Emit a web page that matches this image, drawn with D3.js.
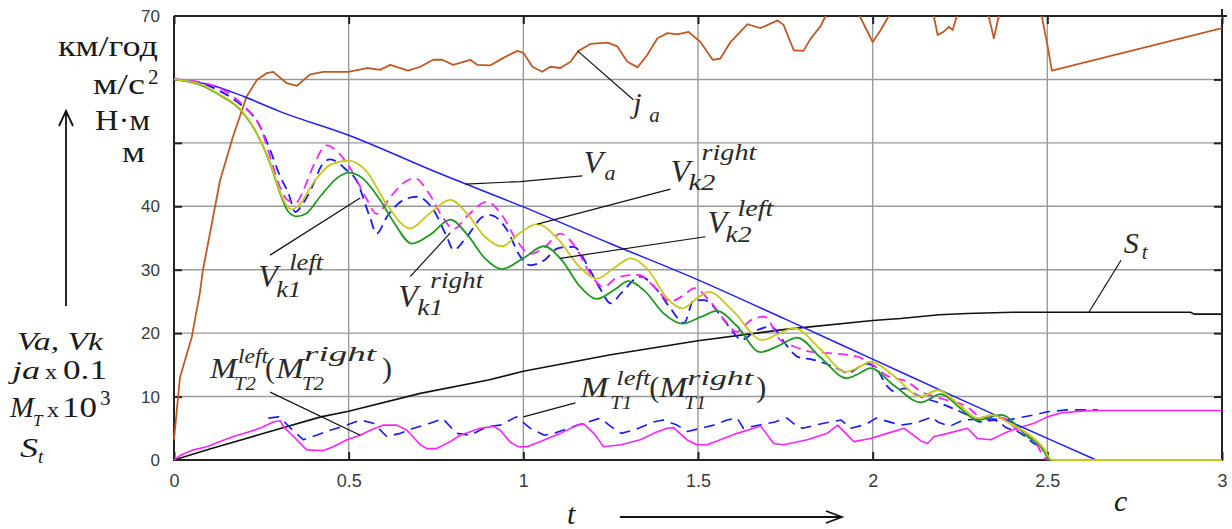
<!DOCTYPE html>
<html>
<head>
<meta charset="utf-8">
<script src="https://cdn.jsdelivr.net/npm/d3@7"></script>
<style>
body { margin: 0; background: #fff; }
svg { display: block; }
</style>
</head>
<body>
<svg id="chart" width="1232" height="529"></svg>
<script>
// axis ticks
const xTickVals = [0, 0.5, 1, 1.5, 2, 2.5, 3];
const xTickLabels = ["0", "0.5", "1", "1.5", "2", "2.5", "3"];
const yGridVals = [10, 20, 30, 40, 50, 60];
const yLabelVals = [0, 10, 20, 30, 40, 70];

// series, [t, value]
const vaData = [[0,60],[0.1,59.2],[0.2,57.3],[0.3,55],[0.5,51.2],[0.75,45.4],[1,39.9],[1.25,34.1],[1.5,28.4],
  [1.75,22.2],[2,15.9],[2.25,9.6],[2.5,3.4],[2.64,0]];

const jaData = [[0,3.2],[0.017,13],[0.051,19.4],[0.074,26.3],[0.083,30],[0.132,44.1],[0.169,51],[0.208,57.3],
  [0.237,59.9],[0.266,61],[0.284,61.2],[0.323,59.4],[0.352,59],[0.39,60.8],[0.427,61.2],[0.499,61.2],[0.553,61.8],
  [0.59,61.5],[0.619,62.3],[0.67,61.4],[0.705,62],[0.742,63.1],[0.768,63.1],[0.799,62.3],[0.848,63.1],[0.868,62.3],
  [0.905,62.2],[0.943,63.4],[0.983,64.5],[1.0,64.2],[1.026,62],[1.054,61.2],[1.077,62],[1.106,61.8],[1.135,62.8],
  [1.158,64.5],[1.192,65.6],[1.241,65.8],[1.269,65.2],[1.298,62.8],[1.327,61.9],[1.355,63.9],[1.384,66.5],
  [1.413,67.3],[1.441,67.1],[1.473,67.5],[1.507,65.9],[1.542,63.1],[1.564,63.3],[1.593,65.9],[1.642,68.7],
  [1.679,68.1],[1.728,69.3],[1.745,68.6],[1.774,64.6],[1.802,64.5],[1.822,66.4],[1.851,68.4],[1.865,70],
  [1.91,72.5],[1.963,70],[2.0,65.9],[2.023,67.8],[2.046,70],[2.11,72.5],[2.175,70],[2.186,67],[2.203,67.5],
  [2.218,68.3],[2.229,67.8],[2.241,70],[2.29,72.5],[2.332,70],[2.347,66.5],[2.361,70],[2.42,72.5],[2.484,70],
  [2.501,65.2],[2.513,61.4],[3,68.1]];

const stData = [[0,0],[0.1,1.7],[0.25,4.1],[0.42,6.8],[0.5,7.7],[0.705,10.5],[0.9,12.6],[1,14],[1.25,16.6],
  [1.5,18.8],[1.75,20.6],[2,22],[2.08,22.3],[2.19,22.9],[2.27,23.1],[2.4,23.3],[2.91,23.3],[2.92,23],[3,23]];

const vkGreen = [[0,60],[0.077,59.1],[0.132,57.5],[0.19,55.2],[0.237,51.5],[0.275,46.8],[0.304,42],[0.328,39.1],
  [0.352,38.4],[0.38,38.9],[0.418,41.5],[0.466,44.4],[0.5,45.3],[0.54,44.4],[0.59,41],[0.63,37.4],[0.681,34.1],
  [0.735,35.6],[0.791,37.9],[0.84,35.5],[0.89,31.8],[0.939,30.1],[1.0,31.8],[1.058,33.7],[1.11,31.5],[1.16,27.5],
  [1.211,25.4],[1.26,26.8],[1.301,28.2],[1.35,26.5],[1.4,23.2],[1.456,21.5],[1.51,22.6],[1.555,23.5],[1.61,21.2],
  [1.679,17],[1.73,18],[1.784,19.3],[1.85,16.2],[1.926,12.9],[1.96,13.6],[1.994,14.5],[2.06,11.8],[2.138,9.1],
  [2.195,10.4],[2.25,8.2],[2.3,6.3],[2.367,7.1],[2.443,3.7],[2.481,2.1],[2.5,0.5],[2.505,0],[3,0]];

const vkYellow = [[0,60],[0.077,59.2],[0.132,57.6],[0.19,55.3],[0.237,51.6],[0.275,46.9],[0.3,42.8],[0.318,40.5],
  [0.337,39.5],[0.36,40.3],[0.4,43.8],[0.45,46.6],[0.5,47.2],[0.55,45.6],[0.61,40.2],[0.676,36.5],[0.73,38.8],
  [0.791,41],[0.84,38.8],[0.89,35.2],[0.939,33.7],[0.99,35.8],[1.039,37.2],[1.1,34.8],[1.16,30.5],[1.211,28.6],
  [1.26,30.3],[1.307,31.8],[1.36,29.8],[1.41,25.6],[1.455,23.9],[1.5,25.6],[1.531,26.5],[1.6,23.5],[1.684,18.9],
  [1.73,19.9],[1.775,20.8],[1.85,17.5],[1.923,13.9],[1.96,14.6],[1.994,15.5],[2.06,13.3],[2.138,10],[2.186,11],
  [2.25,8.6],[2.3,6.6],[2.34,7.1],[2.4,5.5],[2.443,4.2],[2.49,1.8],[2.51,0.1],[2.52,0],[3,0]];

const vkMagenta = [[0,60],[0.08,59.5],[0.132,58.6],[0.2,55.8],[0.247,52.5],[0.277,47.5],[0.3,43.5],[0.325,41],
  [0.35,40.6],[0.37,42.5],[0.4,46.5],[0.437,49.6],[0.47,48.5],[0.51,45.5],[0.55,41.3],[0.58,38.8],[0.62,41.5],
  [0.66,43.8],[0.69,44.4],[0.73,42],[0.77,38.2],[0.8,36.4],[0.84,38.5],[0.896,40.7],[0.94,38.5],[0.98,34.7],
  [1.02,32.5],[1.06,33.5],[1.106,35.7],[1.15,33.5],[1.19,29.5],[1.23,27.3],[1.27,28.8],[1.33,29.2],[1.38,27],
  [1.42,25],[1.46,26],[1.49,27.1],[1.53,25.3],[1.58,21.8],[1.61,20.2],[1.65,22],[1.69,22.6],[1.736,18.9],
  [1.775,17.9],[1.83,17],[1.889,16.8],[1.956,16.3],[2.0,15],[2.04,13.3],[2.1,12.3],[2.138,10.8],[2.195,9.7],
  [2.27,8.4],[2.31,6.8],[2.375,6.6],[2.414,4.7],[2.462,3.2],[2.49,0.5],[2.5,0]];

const vkBlue = [[0,60],[0.08,59.4],[0.13,58.2],[0.18,56.5],[0.247,52.5],[0.275,48.9],[0.304,44.7],[0.328,42],
  [0.347,39.1],[0.37,40.5],[0.4,43.6],[0.42,46.2],[0.447,47.4],[0.494,45.7],[0.522,44.1],[0.56,38.4],[0.58,35.7],
  [0.61,38.4],[0.657,41],[0.695,41.5],[0.743,39.4],[0.781,35.2],[0.8,33.1],[0.838,35.2],[0.886,38.4],[0.905,38.6],
  [0.953,36.3],[0.991,32.1],[1.02,30.7],[1.06,31.5],[1.1,33.4],[1.144,33.6],[1.19,30],[1.22,27],[1.25,24.7],
  [1.28,26.3],[1.335,28.9],[1.383,26.8],[1.42,24],[1.46,21.6],[1.488,25.2],[1.517,25.2],[1.574,22.1],[1.612,19.4],
  [1.622,18.9],[1.67,20.5],[1.708,21],[1.756,17.9],[1.784,16.3],[1.83,15.8],[1.908,14.2],[1.927,13.7],[1.984,15.2],
  [2.013,14.2],[2.042,11.6],[2.062,10.8],[2.09,11.3],[2.128,10.2],[2.195,8.9],[2.271,7.1],[2.31,6],[2.347,6.3],
  [2.386,5],[2.415,4.5],[2.462,2.6],[2.49,1.6],[2.5,0.5],[2.505,0]];

const mtMagenta = [[0,0],[0.02,0.8],[0.056,1.6],[0.094,2.1],[0.132,2.9],[0.17,3.7],[0.218,4.5],[0.246,5],[0.284,6],
  [0.304,6.2],[0.313,5.3],[0.342,3.7],[0.38,1.6],[0.428,1.5],[0.456,2.1],[0.495,3.2],[0.533,3.9],[0.562,4.7],
  [0.6,5.5],[0.638,5.5],[0.667,4.7],[0.705,2.4],[0.724,1.8],[0.752,1.8],[0.791,2.9],[0.819,3.9],[0.877,5],
  [0.915,5.3],[0.934,4.7],[0.963,2.8],[0.985,2.1],[1.01,2.1],[1.049,2.9],[1.106,4.2],[1.154,5.5],[1.173,5.7],
  [1.202,4.2],[1.23,2.1],[1.28,2.4],[1.335,3.2],[1.373,4.2],[1.411,5],[1.43,5.1],[1.468,3.2],[1.497,2.4],
  [1.526,2.4],[1.564,3.2],[1.612,4.2],[1.66,5],[1.679,5.4],[1.717,2.6],[1.745,2.4],[1.813,3.2],[1.87,4.2],
  [1.9,5.5],[1.946,2.9],[1.994,3.4],[2.042,4.2],[2.09,5],[2.11,4.2],[2.138,3],[2.157,2.6],[2.176,3.7],[2.215,4.2],
  [2.271,5],[2.3,3.4],[2.338,3.2],[2.376,4.2],[2.414,5],[2.462,5.8],[2.5,6.8],[2.539,7.4],[2.596,7.7],[2.644,7.8],
  [3,7.8]];

const mtBlue = [[0.27,6.6],[0.3,6.8],[0.32,5.8],[0.34,4.7],[0.37,3.2],[0.408,3.9],
  [0.447,4.7],[0.495,5.5],[0.533,6.3],[0.571,5.8],[0.609,3.7],[0.648,4.2],[0.686,5],[0.733,5.8],[0.77,6.5],
  [0.809,4.2],[0.848,3.9],[0.88,4.8],[0.905,5.3],[0.934,5.5],[0.98,6.8],[1.02,5],[1.06,3.9],[1.087,4.2],
  [1.145,5.3],[1.22,6.6],[1.25,5.3],[1.28,4.2],[1.316,4.7],[1.373,6],[1.4,6.3],[1.44,5.5],[1.47,4.5],[1.545,5.5],
  [1.583,6.3],[1.612,6.6],[1.63,5],[1.72,6],[1.755,6.6],[1.784,5.3],[1.8,5],[1.86,5.8],[1.91,6.3],[1.937,5],
  [1.98,5.6],[2.01,6.6],[2.08,5.5],[2.12,5.8],[2.17,6.8],[2.186,6],[2.22,5.3],[2.26,6.3],[2.33,6.5],[2.386,6.3],
  [2.414,6.6],[2.462,7.1],[2.5,7.6],[2.558,7.9],[2.644,7.9]];

// leader lines for curve names, [t, value]
const leaders = [
  [[1.155,64.5],[1.315,56.8]],
  [[0.834,43.5],[0.991,43.9],[1.169,44.8]],
  [[1.04,37.2],[1.421,42.7]],
  [[1.106,31.8],[1.521,35.2]],
  [[0.275,32.3],[0.533,41.3]],
  [[0.676,28.9],[0.791,35.8]],
  [[2.711,31.5],[2.619,23.3]],
  [[0.275,10.7],[0.533,3.9]],
  [[1.149,9],[1.0,6.8]]
];

// curve names: anchor [t, value], parts [text, dx, dy, size, italic, width]
const curveLabels = [
  {at:[1.315,54.7], parts:[["j",0,0,30,1],["a",16,9,21,1]]},
  {at:[1.172,45.2], parts:[["V",0,0,32,1],["a",21,7,22,1]]},
  {at:[1.421,43.8], parts:[["V",0,0,32,1],["right",31,-22,23,1,55],["k2",18,8,23,1,27]]},
  {at:[1.527,35.8], parts:[["V",0,0,32,1],["left",30,-17,23,1,36],["k2",18,9,23,1,26]]},
  {at:[0.241,27.3], parts:[["V",0,0,32,1],["left",31,-17,23,1,34],["k1",18,10,23,1,25]]},
  {at:[0.642,24.1], parts:[["V",0,0,32,1],["right",32,-19,23,1,53],["k1",19,8,23,1,26]]},
  {at:[2.719,32.6], parts:[["S",0,0,30,1],["t",18,6,21,1]]},
  {at:[0.103,12.9], parts:[["M",0,0,30,1,27],["left",28,-15,21,1,30],["T2",24,12,19,1,22],["(",55,0,30,0],
    ["M",66,0,30,1,28],["right",94,-17,22,1,72],["T2",92,12,19,1,22],[")",172,0,30,0]]},
  {at:[1.163,9.9], parts:[["M",0,0,30,1,28],["left",36,-12,21,1,34],["T1",30,12,19,1,22],["(",69,0,30,0],
    ["M",79,0,30,1,28],["right",107,-12,22,1,66],["T1",104,12,19,1,22],[")",176,0,30,0]]}
];

var margin = { top: 16, left: 174 },
    width = 1048,
    height = 444;

var x = d3.scaleLinear().domain([0, 3]).range([0, width]);
var y = d3.scaleLinear().domain([0, 70]).range([height, 0]);

var root = d3.select("#chart");
var svg = root.append("g")
    .attr("transform", "translate(" + margin.left + "," + margin.top + ")");

svg.append("clipPath").attr("id", "plotclip")
  .append("rect").attr("x", -2).attr("y", 0).attr("width", width + 4).attr("height", height + 3);

// grid
svg.append("g").selectAll("line")
  .data(xTickVals.slice(1, -1)).enter().append("line")
  .attr("x1", d => x(d)).attr("x2", d => x(d)).attr("y1", 0).attr("y2", height)
  .attr("stroke", "#9a9a9a").attr("stroke-width", 1.4);
svg.append("g").selectAll("line")
  .data(yGridVals).enter().append("line")
  .attr("x1", 0).attr("x2", width).attr("y1", d => y(d)).attr("y2", d => y(d))
  .attr("stroke", "#9a9a9a").attr("stroke-width", 1.4);

// axes with inward ticks
function styleAxis(g) {
  g.select(".domain").remove();
  g.selectAll(".tick line").attr("stroke", "#222").attr("stroke-width", 2);
  g.selectAll("text").attr("font-family", "'Liberation Sans', Arial, sans-serif")
    .attr("font-size", 17).attr("fill", "#3a3a3a");
}
svg.append("g").attr("transform", "translate(0," + height + ")")
  .call(d3.axisBottom(x).tickValues(xTickVals).tickSize(-8).tickPadding(14)
    .tickFormat((d, i) => xTickLabels[i]))
  .call(styleAxis)
  .selectAll("text").attr("font-size", 18);
svg.append("g")
  .call(d3.axisTop(x).tickValues(xTickVals).tickSize(-8).tickFormat(""))
  .call(styleAxis);
svg.append("g")
  .call(d3.axisLeft(y).tickValues(yGridVals).tickSize(-8).tickFormat(""))
  .call(styleAxis);
svg.append("g")
  .call(d3.axisLeft(y).tickValues(yLabelVals).tickSize(0).tickPadding(14).tickFormat(d3.format("d")))
  .call(styleAxis);
svg.append("g").attr("transform", "translate(" + width + ",0)")
  .call(d3.axisRight(y).tickValues(yGridVals).tickSize(-8).tickFormat(""))
  .call(styleAxis);

// frame
svg.append("path")
  .attr("d", "M0,0V" + height + "H" + width + "V3M0,0H" + width + "M" + width + ",-7V0H" + (width + 5))
  .attr("fill", "none").attr("stroke", "#222").attr("stroke-width", 2);

var plot = svg.append("g").attr("clip-path", "url(#plotclip)");
var line = d3.line().x(d => x(d[0])).y(d => y(d[1]));
var smooth = d3.line().x(d => x(d[0])).y(d => y(d[1])).curve(d3.curveMonotoneX);

function drawSeries(data, gen, color, w, dash) {
  var p = plot.append("path").datum(data)
    .attr("d", gen).attr("fill", "none")
    .attr("stroke", color).attr("stroke-width", w)
    .attr("stroke-linejoin", "round");
  if (dash) p.attr("stroke-dasharray", dash);
}

drawSeries(jaData, line, "#bf5a25", 1.8);
drawSeries(stData, line, "#111", 1.6);
drawSeries(mtBlue, line, "#1a1aff", 1.6, "11,7");
drawSeries(mtMagenta, line, "#ff22ff", 1.6);
drawSeries(vaData, smooth, "#1f1fff", 1.5);
drawSeries(vkBlue, smooth, "#1a1aff", 1.8, "10,6");
drawSeries(vkMagenta, smooth, "#ff22ff", 1.8, "10,6");
drawSeries(vkGreen, smooth, "#1f9a1f", 1.8);
drawSeries(vkYellow, smooth, "#c8c81a", 1.8);

// leaders
svg.append("g").selectAll("path").data(leaders).enter().append("path")
  .attr("d", line).attr("fill", "none").attr("stroke", "#111").attr("stroke-width", 1.2);

// curve names
var serif = "'Liberation Serif', 'Times New Roman', serif";
curveLabels.forEach(function (lab) {
  var g = svg.append("g")
    .attr("transform", "translate(" + x(lab.at[0]) + "," + y(lab.at[1]) + ")");
  lab.parts.forEach(function (p) {
    var t = g.append("text").attr("x", p[1]).attr("y", p[2])
      .attr("font-family", serif).attr("font-size", p[3])
      .attr("font-style", p[4] ? "italic" : "normal")
      .attr("fill", "#2a2a2a").text(p[0]);
    if (p[5]) t.attr("textLength", p[5]).attr("lengthAdjust", "spacingAndGlyphs");
  });
});

// units and legend on the left
var txt = function (s, px, py, size, italic, w) {
  var t = root.append("text").attr("x", px).attr("y", py)
    .attr("font-family", serif).attr("font-size", size)
    .attr("font-style", italic ? "italic" : "normal")
    .attr("fill", "#1a1a1a").text(s);
  if (w) t.attr("textLength", w).attr("lengthAdjust", "spacingAndGlyphs");
  return t;
};
txt("км/год", 58, 56, 29, 0, 100);
txt("м/с", 93, 94, 30, 0, 52);
txt("2", 148, 84, 21);
txt("Н·м", 95, 130, 30, 0, 55);
txt("м", 122, 162, 30, 0, 23);

txt("Va,  Vk", 17, 350, 25, 1, 86);
txt("ja", 12, 379, 25, 1, 28);
txt("x", 45, 379, 22, 0, 12);
txt("0.1", 63, 379, 28, 0, 44);
txt("M", 10, 417, 29, 1, 24);
txt("T", 33, 426, 17, 1);
txt("x", 47, 417, 22, 0, 12);
txt("10", 62, 417, 29, 0, 35);
txt("3", 100, 405, 21);
txt("S", 20, 457, 27, 1, 18);
txt("t", 38, 463, 19, 1);

txt("t", 567, 524, 30, 1);
txt("c", 1114, 511, 30, 1);

// arrows
root.append("path").attr("d", "M66,306V111M59,126L66,111L73,126")
  .attr("fill", "none").attr("stroke", "#111").attr("stroke-width", 1.8);
root.append("path").attr("d", "M620,517H842M826,511L842,517L826,523")
  .attr("fill", "none").attr("stroke", "#111").attr("stroke-width", 1.8);
</script>
</body>
</html>
